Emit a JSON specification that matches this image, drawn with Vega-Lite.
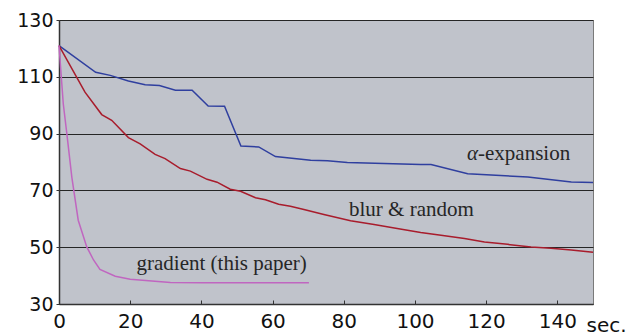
{
  "$schema": "https://vega.github.io/schema/vega-lite/v6.json",
  "width": 534,
  "height": 284,
  "autosize": {"type": "none"},
  "padding": {"left": 59, "top": 20, "right": 47, "bottom": 31},
  "background": "white",
  "config": {
    "view": {"fill": "#c0c3cb", "stroke": "#7a7a7a", "strokeWidth": 1}
  },
  "datasets": {
    "lines": [
      {"s": "alpha", "t": 0, "v": 121}, {"s": "alpha", "t": 10.3, "v": 111.6}, {"s": "alpha", "t": 14.4, "v": 110.5},
      {"s": "alpha", "t": 19.5, "v": 108.5}, {"s": "alpha", "t": 24.2, "v": 107.2}, {"s": "alpha", "t": 28.2, "v": 106.9},
      {"s": "alpha", "t": 32.7, "v": 105.3}, {"s": "alpha", "t": 37.4, "v": 105.3}, {"s": "alpha", "t": 41.9, "v": 99.7},
      {"s": "alpha", "t": 46.5, "v": 99.6}, {"s": "alpha", "t": 51.1, "v": 85.6}, {"s": "alpha", "t": 56.1, "v": 85.3},
      {"s": "alpha", "t": 60.8, "v": 81.9}, {"s": "alpha", "t": 70.7, "v": 80.6}, {"s": "alpha", "t": 75.4, "v": 80.4},
      {"s": "alpha", "t": 81, "v": 79.8}, {"s": "alpha", "t": 101.6, "v": 79.1}, {"s": "alpha", "t": 104.5, "v": 79.1},
      {"s": "alpha", "t": 114.8, "v": 75.9}, {"s": "alpha", "t": 131.7, "v": 74.7}, {"s": "alpha", "t": 143.9, "v": 73},
      {"s": "alpha", "t": 150, "v": 72.8},
      {"s": "blur", "t": 0, "v": 121}, {"s": "blur", "t": 7.3, "v": 104.6}, {"s": "blur", "t": 12, "v": 96.7},
      {"s": "blur", "t": 14.8, "v": 94.7}, {"s": "blur", "t": 19.5, "v": 88.6}, {"s": "blur", "t": 22.8, "v": 86.4},
      {"s": "blur", "t": 27, "v": 82.7}, {"s": "blur", "t": 29.8, "v": 81.2}, {"s": "blur", "t": 34.1, "v": 77.7},
      {"s": "blur", "t": 36.9, "v": 76.8}, {"s": "blur", "t": 41.6, "v": 73.9}, {"s": "blur", "t": 44.4, "v": 72.9},
      {"s": "blur", "t": 48.1, "v": 70.4}, {"s": "blur", "t": 51, "v": 69.7}, {"s": "blur", "t": 55.2, "v": 67.4},
      {"s": "blur", "t": 58, "v": 66.7}, {"s": "blur", "t": 61.7, "v": 65.1}, {"s": "blur", "t": 65, "v": 64.4},
      {"s": "blur", "t": 68.8, "v": 63.3}, {"s": "blur", "t": 74.4, "v": 61.5}, {"s": "blur", "t": 81.9, "v": 59.3},
      {"s": "blur", "t": 88.5, "v": 58}, {"s": "blur", "t": 95, "v": 56.6}, {"s": "blur", "t": 101.6, "v": 55.2},
      {"s": "blur", "t": 107.3, "v": 54.2}, {"s": "blur", "t": 113.9, "v": 53.1}, {"s": "blur", "t": 119.5, "v": 51.8},
      {"s": "blur", "t": 126, "v": 51}, {"s": "blur", "t": 132.6, "v": 50.1}, {"s": "blur", "t": 138.2, "v": 49.6},
      {"s": "blur", "t": 143.9, "v": 49}, {"s": "blur", "t": 150, "v": 48.2},
      {"s": "grad", "t": 0, "v": 121}, {"s": "grad", "t": 1.2, "v": 100.5}, {"s": "grad", "t": 2.2, "v": 90},
      {"s": "grad", "t": 3.6, "v": 74.7}, {"s": "grad", "t": 5.4, "v": 59.5}, {"s": "grad", "t": 7.8, "v": 50.1},
      {"s": "grad", "t": 9.7, "v": 45.5}, {"s": "grad", "t": 11.5, "v": 42.2}, {"s": "grad", "t": 15.8, "v": 39.8},
      {"s": "grad", "t": 20, "v": 38.7}, {"s": "grad", "t": 31.3, "v": 37.6}, {"s": "grad", "t": 40, "v": 37.5},
      {"s": "grad", "t": 70.2, "v": 37.5}
    ],
    "labels": [
      {"t": 99, "v": 61.0, "label": "blur & random"},
      {"t": 45.7, "v": 42.0, "label": "gradient (this paper)"}
    ],
    "alphaParts": [
      {"t": 117.7, "v": 80.6, "label": "-expansion"}
    ],
    "alphaSym": [
      {"t": 117.7, "v": 80.6, "label": "α"}
    ]
  },
  "layer": [
    {
      "data": {"name": "lines"},
      "mark": {"type": "line", "strokeWidth": 1.5},
      "encoding": {
        "x": {
          "field": "t", "type": "quantitative",
          "scale": {"domain": [0, 150], "nice": false, "zero": false},
          "axis": {
            "values": [0, 20, 40, 60, 80, 100, 120, 140],
            "grid": false,
            "domainColor": "#333333", "domainWidth": 1.5,
            "tickColor": "#333333", "tickSize": -4, "tickWidth": 1,
            "labelFont": "DejaVu Sans", "labelFontSize": 20, "labelColor": "#111111",
            "labelPadding": 11, "labelFlush": false,
            "title": "sec.",
            "titleFont": "DejaVu Sans", "titleFontSize": 20, "titleFontWeight": "normal", "titleColor": "#111111",
            "titleAlign": "left", "titleBaseline": "alphabetic", "titleAnchor": null,
            "titleX": 527, "titleY": 27
          }
        },
        "y": {
          "field": "v", "type": "quantitative",
          "scale": {"domain": [30, 130], "nice": false, "zero": false},
          "axis": {
            "values": [30, 40, 50, 60, 70, 80, 90, 100, 110, 120, 130],
            "labelExpr": "datum.value % 20 == 10 ? datum.label : ''",
            "grid": true, "gridColor": "#262626", "gridWidth": 1.2, "gridOpacity": 1,
            "domainColor": "#333333", "domainWidth": 1.5,
            "tickColor": "#333333", "tickSize": 3,
            "labelFont": "DejaVu Sans", "labelFontSize": 19, "labelColor": "#111111",
            "labelPadding": 3, "labelFlush": false,
            "title": null
          }
        },
        "color": {
          "field": "s", "type": "nominal",
          "scale": {"domain": ["alpha", "blur", "grad"], "range": ["#2f3f9f", "#a81c2c", "#c066c0"]},
          "legend": null
        }
      }
    },
    {
      "data": {"name": "labels"},
      "mark": {"type": "text", "font": "Liberation Serif", "fontSize": 21, "color": "#262626", "align": "center", "baseline": "alphabetic"},
      "encoding": {
        "x": {"field": "t", "type": "quantitative"},
        "y": {"field": "v", "type": "quantitative"},
        "text": {"field": "label"}
      }
    },
    {
      "data": {"name": "alphaParts"},
      "mark": {"type": "text", "font": "Liberation Serif", "fontSize": 21, "color": "#262626", "align": "left", "baseline": "alphabetic"},
      "encoding": {
        "x": {"field": "t", "type": "quantitative"},
        "y": {"field": "v", "type": "quantitative"},
        "text": {"field": "label"}
      }
    },
    {
      "data": {"name": "alphaSym"},
      "mark": {"type": "text", "font": "Liberation Serif", "fontSize": 21, "fontStyle": "italic", "color": "#262626", "align": "right", "baseline": "alphabetic"},
      "encoding": {
        "x": {"field": "t", "type": "quantitative"},
        "y": {"field": "v", "type": "quantitative"},
        "text": {"field": "label"}
      }
    }
  ]
}
